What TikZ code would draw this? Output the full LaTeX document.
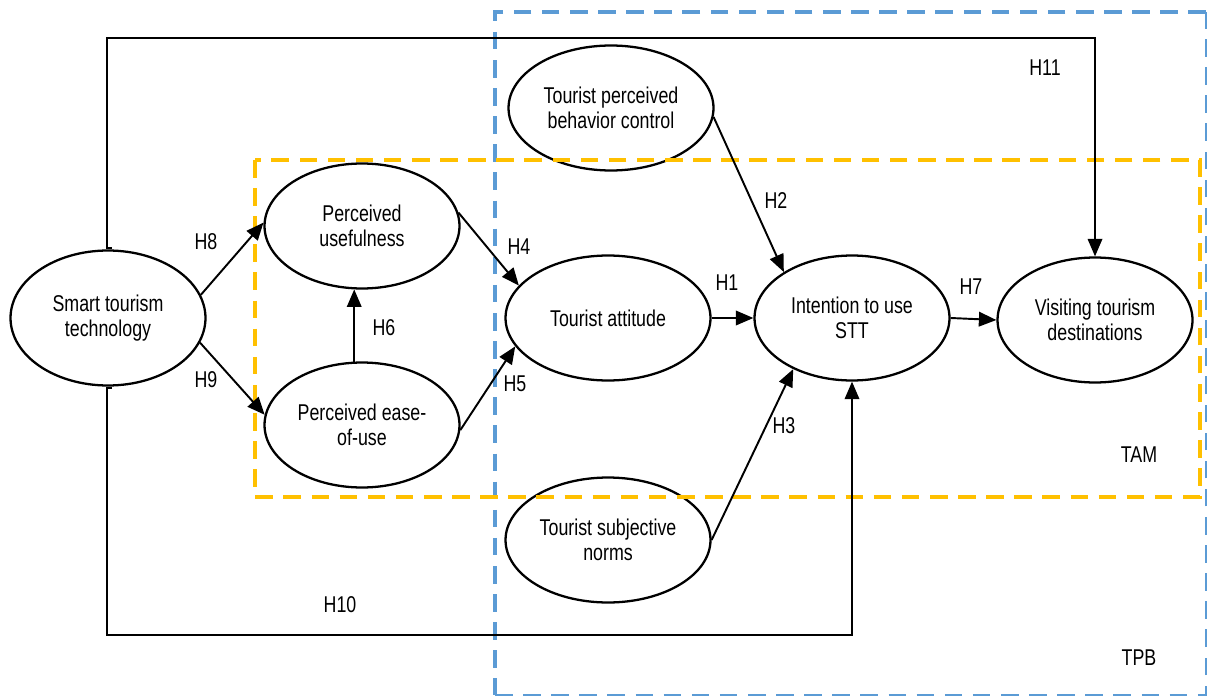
\documentclass[tikz,border=0pt]{standalone}
\usepackage{fontspec}
\setmainfont{Liberation Sans}[FakeStretch=0.78]
\usetikzlibrary{arrows.meta,shapes.geometric}
\definecolor{tam}{HTML}{FFC000}
\definecolor{tpb}{HTML}{5B9BD5}
\tikzset{oval/.style={draw,ellipse,line width=1.3pt,inner sep=0pt,minimum width=39mm,minimum height=25mm,align=center,font=\fontsize{13}{14.5}\selectfont},arrow/.style={-{Triangle[length=3.5mm,width=2.9mm]},line width=1.1pt},link/.style={line width=0.6pt},lab/.style={font=\fontsize{13}{14.5}\selectfont,inner sep=1pt},frame/.style={dash pattern=on 10pt off 6pt}}

\begin{document}
\begin{tikzpicture}[x=0.02cm,y=-0.02cm]
\useasboundingbox (0,0) rectangle (1209,699);
\node[oval,minimum height=27mm] (a) at (108,318) {Smart tourism\\technology};
\node[oval] (b) at (362,226) {Perceived\\usefulness};
\node[oval] (c) at (362,425) {Perceived ease-\\of-use};
\node[oval,minimum width=41mm] (d) at (611,108) {Tourist perceived\\behavior control};
\node[oval,minimum width=41mm] (e) at (608,318) {Tourist attitude};
\node[oval,minimum width=41mm] (f) at (608,540) {Tourist subjective\\norms};
\node[oval] (g) at (852,318) {Intention to use\\STT};
\node[oval] (h) at (1095,320) {Visiting tourism\\destinations};
% frames
\draw[frame,tpb,line width=1.8pt] (1206,12) -- (495,12) -- (495,695);
\draw[frame,tpb,line width=0.8pt] (495,695) -- (1206,695) -- (1206,12);
\draw[frame,tam,line width=2.4pt] (255,160) rectangle (1200,497);
% long paths
\coordinate (t1) at (112,248); \coordinate (t0) at (107,248); \coordinate (t2) at (600,38);
\coordinate (u1) at (112,388); \coordinate (u0) at (107,388); \coordinate (u2) at (480,635);
\draw[link](t1)--(t0)|-(t2);\draw[arrow](t2)-|(h.north);
\draw[link](u1)--(u0)|-(u2);\draw[arrow](u2)-|(g.south);
% paths
\draw[arrow](a.14)--(b.178);\draw[arrow](a.-15)--(c.174);
\draw[arrow](c.97)--(b.263);
\draw[arrow](b.8)--(e.160);\draw[arrow](c.-3)--(e.197);
\draw[arrow](e.east)--(g.west);\draw[arrow](g.east)--(h.west);
\draw[arrow](d.-5)--(g.146);\draw[arrow](f.east)--(g.221);
% labels
\node[lab] (l8) at (206,242) {H8};
\node[lab] (l9) at (206,380) {H9};
\node[lab] (l6) at (384,328) {H6};
\node[lab] (l4) at (519,247) {H4};
\node[lab] (l5) at (515,384) {H5};
\node[lab] (l1) at (727,283) {H1};
\node[lab] (l2) at (776,201) {H2};
\node[lab] (l3) at (784,426) {H3};
\node[lab] (l7) at (971,287) {H7};
\node[lab] (l11) at (1045,68) {H11};
\node[lab] (l10) at (340,605) {H10};
\node[lab] (tamlab) at (1139,455) {TAM};
\node[lab] (tpblab) at (1139,658) {TPB};
\end{tikzpicture}
\end{document}
